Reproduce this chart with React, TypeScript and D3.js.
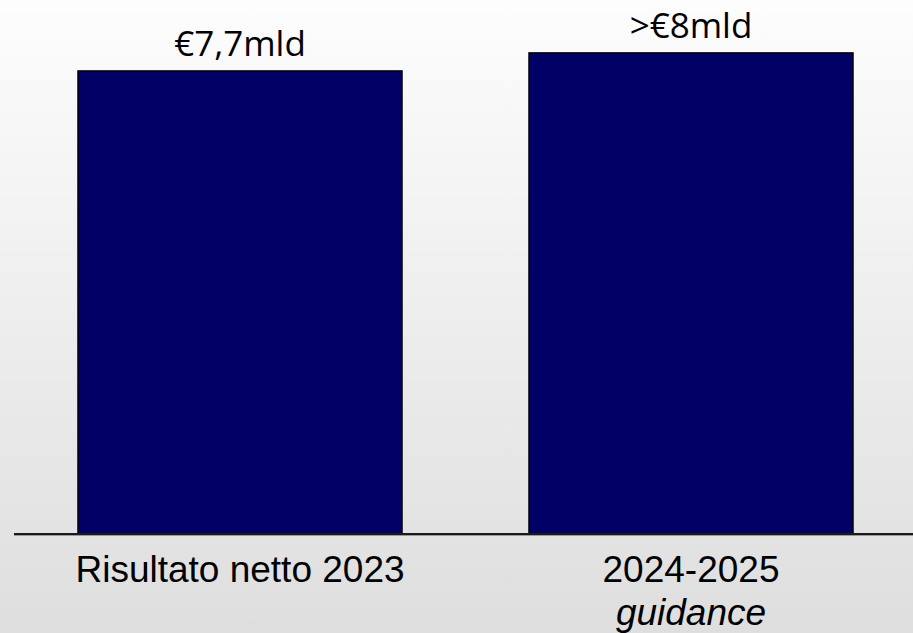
import React from "react";
import * as d3 from "d3";

const categories = ["Risultato netto 2023", "2024-2025"];
const subLabels = ["", "guidance"];
const values = [7.7, 8.0];
const valueLabels = ["€7,7mld", ">€8mld"];

const W = 913;
const H = 633;

export default function App() {
  const x = d3
    .scaleBand<string>()
    .domain(categories)
    .range([14.5, 916.5])
    .paddingInner(0.2816)
    .paddingOuter(0.1408);
  const y = d3.scaleLinear().domain([0, 8.88]).range([534, 0]);

  return (
    <div style={{ position: "absolute", left: 0, top: 0, width: W, height: H }}>
      <svg width={W} height={H} style={{ display: "block" }}>
        <defs>
          <linearGradient id="bg" x1="0" y1="0" x2="0" y2="1">
            <stop offset="0%" stopColor="#fdfdfd" />
            <stop offset="100%" stopColor="#dedede" />
          </linearGradient>
        </defs>
        <rect x={0} y={0} width={W} height={H} fill="url(#bg)" />
        {categories.map((c, i) => {
          const bx = x(c) as number;
          const bw = x.bandwidth();
          return (
            <g key={c}>
              <rect
                x={bx}
                y={y(values[i])}
                width={bw}
                height={y(0) - y(values[i])}
                fill="#000066"
                stroke="#000"
                strokeWidth={1.5}
              />
              <text
                x={bx + bw / 2}
                y={y(values[i]) - 14.5}
                textAnchor="middle"
                fontFamily="'Open Sans', sans-serif"
                fontSize={35}
                fill="#000"
              >
                {valueLabels[i]}
              </text>
              <text
                x={bx + bw / 2}
                y={582}
                textAnchor="middle"
                fontFamily="'Liberation Sans', Arial, sans-serif"
                fontSize={37}
                fill="#000"
              >
                {c}
              </text>
              {subLabels[i] && (
                <text
                  x={bx + bw / 2}
                  y={625}
                  textAnchor="middle"
                  fontFamily="'Liberation Sans', Arial, sans-serif"
                  fontSize={37}
                  fontStyle="italic"
                  fill="#000"
                >
                  {subLabels[i]}
                </text>
              )}
            </g>
          );
        })}
        <line x1={14} x2={W} y1={534} y2={534} stroke="#1a1a1a" strokeWidth={2} />
        <line x1={14} x2={W} y1={535.5} y2={535.5} stroke="#999" strokeWidth={1} />
      </svg>
    </div>
  );
}
